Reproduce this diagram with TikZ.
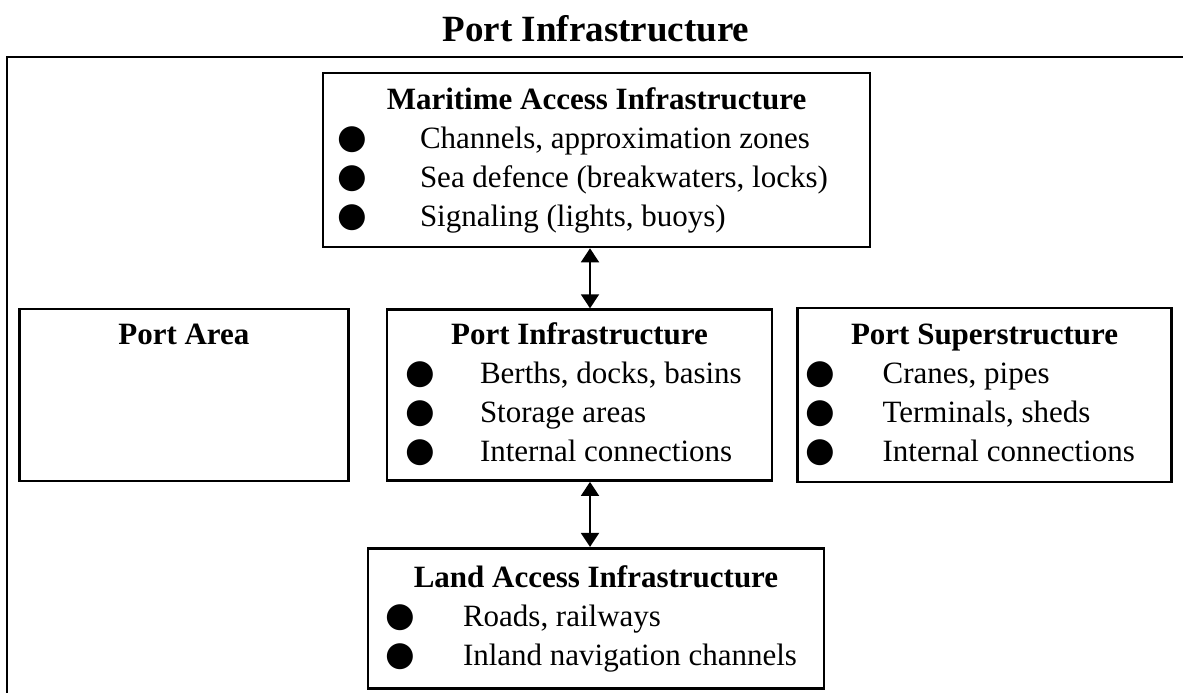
\documentclass[tikz,border=0pt]{standalone}
\usepackage{fontspec}
\setmainfont{Liberation Serif}
\newfontfamily\dotfont{DejaVu Sans}
\usetikzlibrary{positioning, arrows.meta}

\newcommand{\bul}{\makebox[0pt]{\dotfont\fontsize{17}{19.5}\selectfont ●}}
\newcommand{\blist}[5]{%
	\begin{tabular}{@{\hspace{#1}}c@{\hspace{#2}}p{#3}@{}}
		\multicolumn{2}{@{}c@{}}{\textbf{#4}}\\
		#5
	\end{tabular}}

\tikzset{
	infobox/.style={draw, line width=1.3pt, inner sep=0pt, font=\fontsize{15.5}{19.5}\selectfont},
	heading/.style={font=\fontsize{18.5}{22}\selectfont\bfseries},
	dblarrow/.style={line width=1pt, {Triangle[length=7pt,width=9pt]}-{Triangle[length=7pt,width=9pt]}},
}

\begin{document}
\begin{tikzpicture}[x=0.5pt, y=-0.5pt]
	\useasboundingbox (0,0) rectangle (1183,693);

	\node[heading, anchor=base] (ttl) at (596,41) {Port Infrastructure};
	\draw[line width=1.3pt] (1183,57) -- (7,57) -- (7,693);

	\node[infobox, minimum width=273.5pt, minimum height=87pt] (mai) at (596.5,160)
		{\blist{14.5pt}{34pt}{225pt}{Maritime Access Infrastructure}{%
			\bul & Channels, approximation zones\\
			\bul & Sea defence (breakwaters, locks)\\
			\bul & Signaling (lights, buoys)\\}};
	\node[infobox, minimum width=192.5pt, minimum height=85.5pt, below=30pt of mai, xshift=-8.5pt] (pin)
		{\blist{16.5pt}{30pt}{146pt}{Port Infrastructure}{%
			\bul & Berths, docks, basins\\
			\bul & Storage areas\\
			\bul & Internal connections\\}};
	\node[infobox, minimum width=164.5pt, minimum height=86pt, left=18pt of pin] (area)
		{\blist{0pt}{0pt}{164.5pt}{Port Area}{& \\ & \\ & \\}};
	\node[infobox, minimum width=187pt, minimum height=87pt, right=11.5pt of pin] (sup)
		{\blist{11.5pt}{31pt}{144.5pt}{Port Superstructure}{%
			\bul & Cranes, pipes\\
			\bul & Terminals, sheds\\
			\bul & Internal connections\\}};
	\node[infobox, minimum width=228pt, minimum height=70pt, below=32.5pt of pin, xshift=8.25pt] (lai)
		{\blist{16pt}{31.5pt}{180.5pt}{Land Access Infrastructure}{%
			\bul & Roads, railways\\
			\bul & Inland navigation channels\\}};

	\coordinate (ax) at (590,0);
	\draw[dblarrow] (mai.south -| ax) -- (pin.north -| ax);
	\draw[dblarrow] (pin.south -| ax) -- (lai.north -| ax);
\end{tikzpicture}
\end{document}
